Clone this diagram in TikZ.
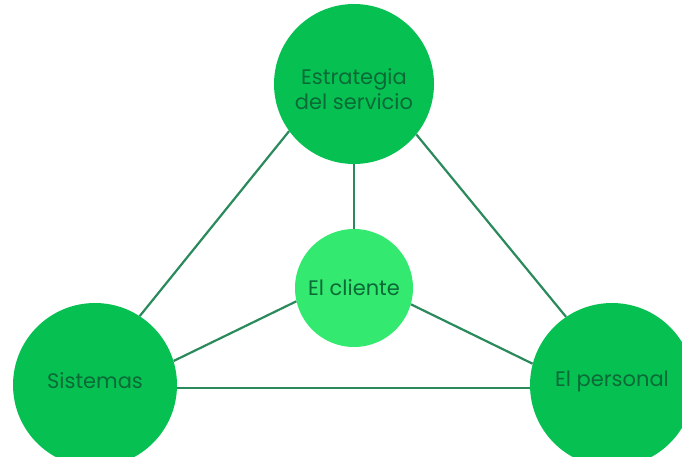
\documentclass[tikz,border=0pt]{standalone}
\usepackage{fontspec}
\setmainfont{Poppins}
\definecolor{circ}{HTML}{06C152}
\definecolor{circlight}{HTML}{34E96F}
\definecolor{txt}{HTML}{0B6A36}
\definecolor{lin}{HTML}{2B8A5C}
\begin{document}
\begin{tikzpicture}[x=1pt,y=-1pt,
  bub/.style={circle, fill=circ, inner sep=0pt},
  lab/.style={text=txt, font=\fontsize{21}{25}\selectfont, align=center, inner sep=0pt},
  link/.style={draw=lin, line width=2.2pt}]
\useasboundingbox (0,0) rectangle (682,457);
\clip (0,0) rectangle (682,457);
\node[bub, minimum size=160pt, label={[lab,yshift=-5pt]center:{Estrategia\\del servicio}}] (top) at (354,84) {};
\node[bub, minimum size=118pt, fill=circlight, label={[lab]center:El cliente}] (center) at (354,288) {};
\node[bub, minimum size=164pt, label={[lab,yshift=4pt]center:Sistemas}] (left) at (95,385) {};
\node[bub, minimum size=164pt, label={[lab,yshift=4pt]center:El personal}] (right) at (612,385) {};
\draw[link] (top.216.6) -- (left.57.3);
\draw[link] (top.-39) -- (right.124);
\draw[link] (top.south) -- (center.north);
\draw[link] (center.193) -- (left.17);
\draw[link] (center.-16) -- (right.165);
\draw[link] (left.-2.8) -- (right.182.8);
\end{tikzpicture}
\end{document}
